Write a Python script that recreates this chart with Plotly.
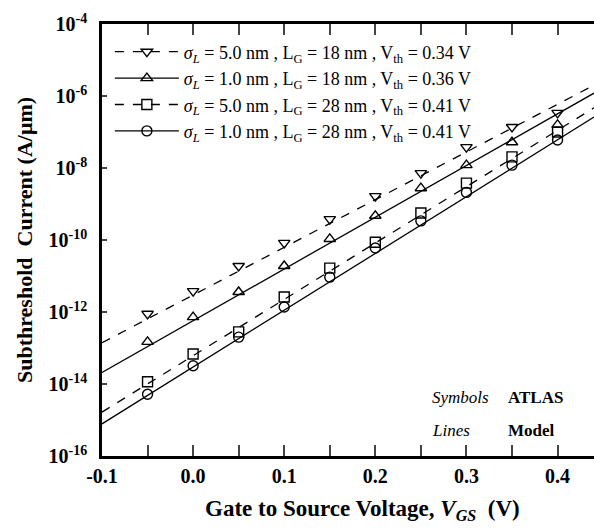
import plotly.graph_objects as go

# ---- data ----
vgs_sim = [-0.05, 0.0, 0.05, 0.10, 0.15, 0.20, 0.25, 0.30, 0.35, 0.40]
atlas_s5_l18 = [8.9e-13, 3.8e-12, 1.9e-11, 8.3e-11, 3.8e-10, 1.66e-9, 7.2e-9, 3.8e-8, 1.38e-7, 3.4e-7]
atlas_s1_l18 = [1.48e-13, 7.2e-13, 3.6e-12, 1.9e-11, 1.07e-10, 4.7e-10, 2.75e-9, 1.2e-8, 5.2e-8, 1.58e-7]
atlas_s5_l28 = [1.15e-14, 6.8e-14, 2.8e-13, 2.6e-12, 1.66e-11, 8.7e-11, 5.6e-10, 3.8e-9, 2.04e-8, 1.0e-7]
atlas_s1_l28 = [5.2e-15, 3.2e-14, 2.0e-13, 1.38e-12, 9.3e-12, 6.0e-11, 3.4e-10, 2.1e-9, 1.2e-8, 6.0e-8]

vgs_model = [-0.10, 0.44]
model_s5_l18 = [1.4e-13, 2.0e-6]
model_s1_l18 = [2.1e-14, 1.2e-6]
model_s5_l28 = [1.66e-15, 4.7e-7]
model_s1_l28 = [7.8e-16, 2.6e-7]

labels = [
    "<i>σ<sub>L</sub></i> = 5.0 nm , L<sub>G</sub> = 18 nm , V<sub>th</sub> = 0.34 V",
    "<i>σ<sub>L</sub></i> = 1.0 nm , L<sub>G</sub> = 18 nm , V<sub>th</sub> = 0.36 V",
    "<i>σ<sub>L</sub></i> = 5.0 nm , L<sub>G</sub> = 28 nm , V<sub>th</sub> = 0.41 V",
    "<i>σ<sub>L</sub></i> = 1.0 nm , L<sub>G</sub> = 28 nm , V<sub>th</sub> = 0.41 V",
]
symbols = ["triangle-down-open", "triangle-up-open", "square-open", "circle-open"]
dashes = ["dash", "solid", "dash", "solid"]

x_tickvals = [-0.1, -0.05, 0.0, 0.05, 0.1, 0.15, 0.2, 0.25, 0.3, 0.35, 0.4]
x_ticktext = ["-0.1", "", "0.0", "", "0.1", "", "0.2", "", "0.3", "", "0.4"]
y_exps = [-4, -6, -8, -10, -12, -14, -16]

FONT = "Liberation Serif"

fig = go.Figure()
atlas = [atlas_s5_l18, atlas_s1_l18, atlas_s5_l28, atlas_s1_l28]
model = [model_s5_l18, model_s1_l18, model_s5_l28, model_s1_l28]
for i in range(4):
    fig.add_trace(go.Scatter(
        x=vgs_model, y=model[i], mode="lines",
        line=dict(color="black", width=1.3, dash=dashes[i]),
        showlegend=False, hoverinfo="skip"))
    fig.add_trace(go.Scatter(
        x=vgs_sim, y=atlas[i], mode="markers",
        marker=dict(symbol=symbols[i], size=10, color="black",
                    line=dict(color="black", width=1.4)),
        showlegend=False))
    fig.add_trace(go.Scatter(
        x=[None], y=[None], mode="lines+markers", name=labels[i],
        legendgroup="g%d" % i,
        line=dict(color="black", width=1.3, dash=dashes[i]),
        marker=dict(symbol=symbols[i], size=10, color="black",
                    line=dict(color="black", width=1.4))))

fig.update_layout(
    width=594, height=532,
    margin=dict(l=102, r=0, t=24, b=76),
    plot_bgcolor="white", paper_bgcolor="white",
    font=dict(family=FONT, color="black"),
    legend=dict(x=0.016, y=0.978, xanchor="left", yanchor="top",
                bgcolor="rgba(0,0,0,0)", font=dict(family=FONT, size=18),
                itemwidth=64, tracegroupgap=0, borderwidth=0),
    xaxis=dict(
        range=[-0.1, 0.44], tickvals=x_tickvals, ticktext=x_ticktext,
        ticks="inside", ticklen=11, tickwidth=2, tickcolor="#444",
        showline=True, linecolor="black", linewidth=2.5, mirror="ticks",
        showgrid=False, zeroline=False,
        tickfont=dict(family=FONT, size=20, weight="bold"),
    ),
    yaxis=dict(
        type="log", range=[-16, -4],
        tickvals=[10.0 ** e for e in y_exps],
        ticktext=["10<sup>%d</sup>" % e for e in y_exps],
        ticks="inside", ticklen=5, tickwidth=2, tickcolor="#444",
        showline=True, linecolor="black", linewidth=2.5,
        showgrid=False, zeroline=False, ticklabelstandoff=8,
        tickfont=dict(family=FONT, size=20, weight="bold"),
        title=dict(text="<b>Subthreshold  Current (A/μm)</b>",
                   font=dict(family=FONT, size=22), standoff=10),
    ),
)

# x-axis title as annotation (centered as in the source)
fig.add_annotation(
    x=(362 - 102) / 492, y=(456 - 510) / 432, xref="paper", yref="paper",
    text="<b>Gate to Source Voltage, <i>V</i><sub><i>GS</i></sub>  (V)</b>",
    showarrow=False, font=dict(family=FONT, size=23),
    xanchor="center", yanchor="middle")

ann = [("<i>Symbols</i>", 430, 397), ("<b>ATLAS</b>", 506, 397),
       ("<i>Lines</i>", 430, 430), ("<b>Model</b>", 506, 430)]
for txt, xp, yp in ann:
    fig.add_annotation(
        x=(xp - 102) / 492, y=(456 - yp) / 432, xref="paper", yref="paper",
        text=txt, showarrow=False, font=dict(family=FONT, size=17),
        xanchor="left", yanchor="middle")

fig.write_html("out.html")
